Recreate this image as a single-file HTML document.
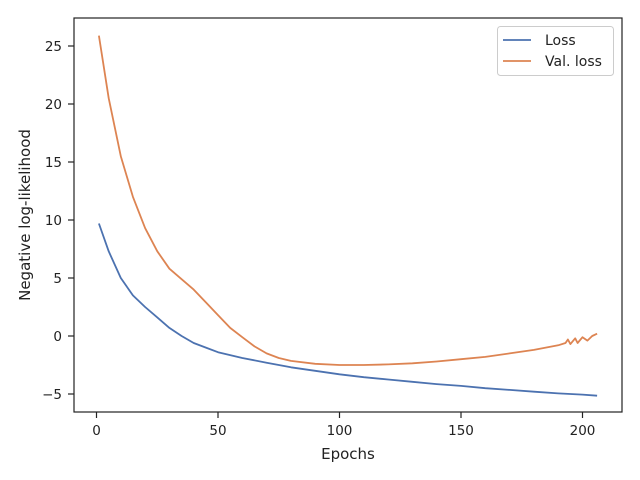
<!DOCTYPE html>
<html><head><meta charset="utf-8"><style>
html,body{margin:0;padding:0;background:#fff;}
svg{display:block;font-family:"DejaVu Sans","Liberation Sans",sans-serif;}
</style></head><body>
<svg id="chart" width="640" height="480" xmlns="http://www.w3.org/2000/svg">
<g id="ticks"></g>
<g id="lines"></g>
<rect x="74" y="18" width="548" height="394" fill="none" stroke="#222" stroke-width="1.2"/>
<text x="348" y="459" font-size="15" text-anchor="middle" fill="#222">Epochs</text>
<text transform="translate(30,215) rotate(-90)" font-size="15" text-anchor="middle" fill="#222">Negative log-likelihood</text>
<g>
<rect x="497.5" y="26.5" width="116" height="49" rx="3" fill="#fff" stroke="#ccc"/>
<line x1="503" y1="40" x2="531" y2="40" stroke="#4c72b0" stroke-width="1.8"/>
<text x="545" y="45" font-size="14" fill="#222">Loss</text>
<line x1="503" y1="61" x2="531" y2="61" stroke="#dd8452" stroke-width="1.8"/>
<text x="545" y="66" font-size="14" fill="#222">Val. loss</text>
</g>
</svg>
<script>
const xTicks=[0,50,100,150,200];
const yTicks=[-5,0,5,10,15,20,25];
const lossEpochs=[1,5,10,15,20,25,30,35,40,45,50,60,70,80,90,100,110,120,130,140,150,160,170,180,190,200,206];
const lossValues=[9.7,7.3,5.0,3.5,2.5,1.6,0.7,0.0,-0.6,-1.0,-1.4,-1.9,-2.3,-2.7,-3.0,-3.3,-3.55,-3.75,-3.95,-4.15,-4.3,-4.5,-4.65,-4.8,-4.95,-5.05,-5.15];
const valEpochs=[1,5,10,15,20,25,30,35,40,45,50,55,60,65,70,75,80,90,100,110,120,130,140,150,160,170,180,190,193,194,195,197,198,200,202,204,206];
const valValues=[25.9,20.5,15.5,12,9.3,7.3,5.8,4.9,4.0,2.9,1.8,0.7,-0.1,-0.9,-1.5,-1.9,-2.15,-2.4,-2.5,-2.5,-2.45,-2.35,-2.2,-2.0,-1.8,-1.5,-1.2,-0.8,-0.6,-0.3,-0.7,-0.2,-0.6,-0.1,-0.4,0.0,0.2];
const xScale=v=>96.5+v*2.43;
const yScale=v=>336-v*11.6;
const NS="http://www.w3.org/2000/svg";
const tg=document.getElementById('ticks');
function mk(tag,attrs,parent){const e=document.createElementNS(NS,tag);for(const k in attrs)e.setAttribute(k,attrs[k]);parent.appendChild(e);return e;}
xTicks.forEach(t=>{const x=xScale(t);
 const l=mk('line',{x1:x,y1:412,x2:x,y2:418,stroke:'#222','stroke-width':1.2},tg);
 
 
 const s=mk('text',{x:x,y:435,'font-size':13.5,'text-anchor':'middle',fill:'#222'},tg);s.textContent=t;
 
 });
yTicks.forEach(t=>{const y=yScale(t);
 const l=mk('line',{x1:68,y1:y,x2:74,y2:y,stroke:'#222','stroke-width':1.2},tg);
 
 
 const s=mk('text',{x:62,y:y+5,'font-size':13.5,'text-anchor':'end',fill:'#222'},tg);s.textContent=t<0?'\u2212'+(-t):t;
 
 });
const lg=document.getElementById('lines');
function path(xs,ys,color){return mk('path',{d:xs.map((x,i)=>(i?'L':'M')+xScale(x).toFixed(1)+','+yScale(ys[i]).toFixed(1)).join(''),fill:'none',stroke:color,'stroke-width':1.8,'stroke-linejoin':'round'},lg);}
const p1=path(lossEpochs,lossValues,'#4c72b0');


const p2=path(valEpochs,valValues,'#dd8452');


</script>
</body></html>
